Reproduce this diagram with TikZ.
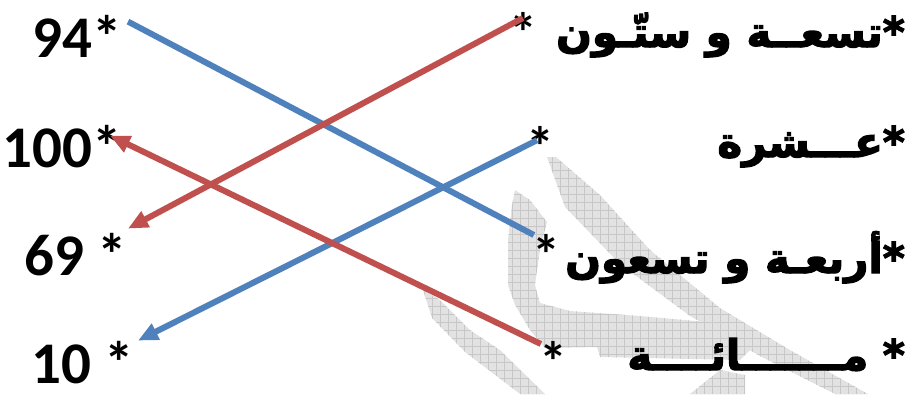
\documentclass[tikz,border=0pt]{standalone}
\usepackage{fontspec}
\setmainfont{Carlito}
\newfontfamily\arabicfont[Script=Arabic,BoldFeatures={FakeBold=3}]{DejaVu Sans}
\TeXXeTstate=1
\usetikzlibrary{arrows.meta,patterns.meta}
\definecolor{lineblue}{RGB}{79,129,189}
\definecolor{linered}{RGB}{192,80,77}
\definecolor{markgray}{RGB}{226,226,226}

\begin{document}
\begin{tikzpicture}[x=1pt,y=-1pt]

\tikzset{num/.style={font=\fontsize{59}{62}\selectfont\bfseries,inner sep=0pt,anchor=base east},
  word/.style={font=\arabicfont\fontsize{42}{48}\selectfont\bfseries,inner sep=0pt,anchor=base east},
  star/.style={font=\fontsize{56}{60}\selectfont\bfseries,inner sep=0pt,anchor=north},
  shade/.style={fill=markgray,postaction={pattern={Hatch[distance=8pt,line width=0.4pt]},pattern color=black!22}},
  joinline/.style={line width=6pt},
  tip/.style={-{Triangle[length=20pt,width=17pt]}}}
  \useasboundingbox (0,0) rectangle (921,394);

  % faint mark behind the right column
  \path[shade] (547,157) -- (556,157) -- (600,195) -- (650,250) -- (720,308) -- (790,350)
    -- (868,394) -- (835,394) -- (760,356) -- (690,316) -- (620,264) -- (565,207) -- cycle;
  \path[shade] (515,190) -- (530,200) -- (547,222) -- (540,250) -- (535,285) -- (540,303)
    -- (570,311) -- (640,316) -- (740,325) -- (755,330) -- (755,345) -- (740,360) -- (600,357)
    -- (597,347) -- (545,348) -- (530,330) -- (515,305) -- (508,285) -- (508,240) -- (512,205) -- cycle;
  \path[shade] (423,290) -- (440,300) -- (470,330) -- (500,350) -- (545,394) -- (520,394)
    -- (465,352) -- (432,318) -- cycle;
  \path[shade] (690,394) -- (720,370) -- (745,375) -- (745,394) -- cycle;

  \node[num] (n94) at (122,57) {94*};
  \node[num] (n100) at (122,167) {100*};
  \node[num] (n69) at (127,275) {69 *};
  \node[num] (n10) at (134,383) {10 *};

  \node[word] (w69) at (905,47) {\beginR *تسعــة و ستّـون\endR};
  \node[word] (w10) at (905,157) {\beginR *عـــشرة\endR};
  \node[word] (w94) at (905,273) {\beginR *أربعـة و تسعون\endR};
  \node[word] (w100) at (905,370) {\beginR * مـــــــائــــة\endR};

  \node[star] (s69) at (523,12) {*};
  \node[star] (s10) at (540,126) {*};
  \node[star] (s94) at (546,234) {*};
  \node[star] (s100) at (553,341) {*};

  \draw[joinline,lineblue] ([xshift=6pt,yshift=-7pt]n94.north east) -- ([xshift=2pt,yshift=-1pt]s94.north west);
  \draw[joinline,linered,tip] ([yshift=-6pt]s69.north) -- ([xshift=1pt,yshift=4pt]n69.north east);
  \draw[joinline,lineblue,tip] ([xshift=-3pt,yshift=6pt]s10.center) -- ([xshift=4pt]n10.north east);
  \draw[joinline,linered,tip] ([xshift=2pt,yshift=-3pt]s100.north west) -- ([xshift=-12pt,yshift=-11pt]n100.north east);

\end{tikzpicture}
\end{document}
